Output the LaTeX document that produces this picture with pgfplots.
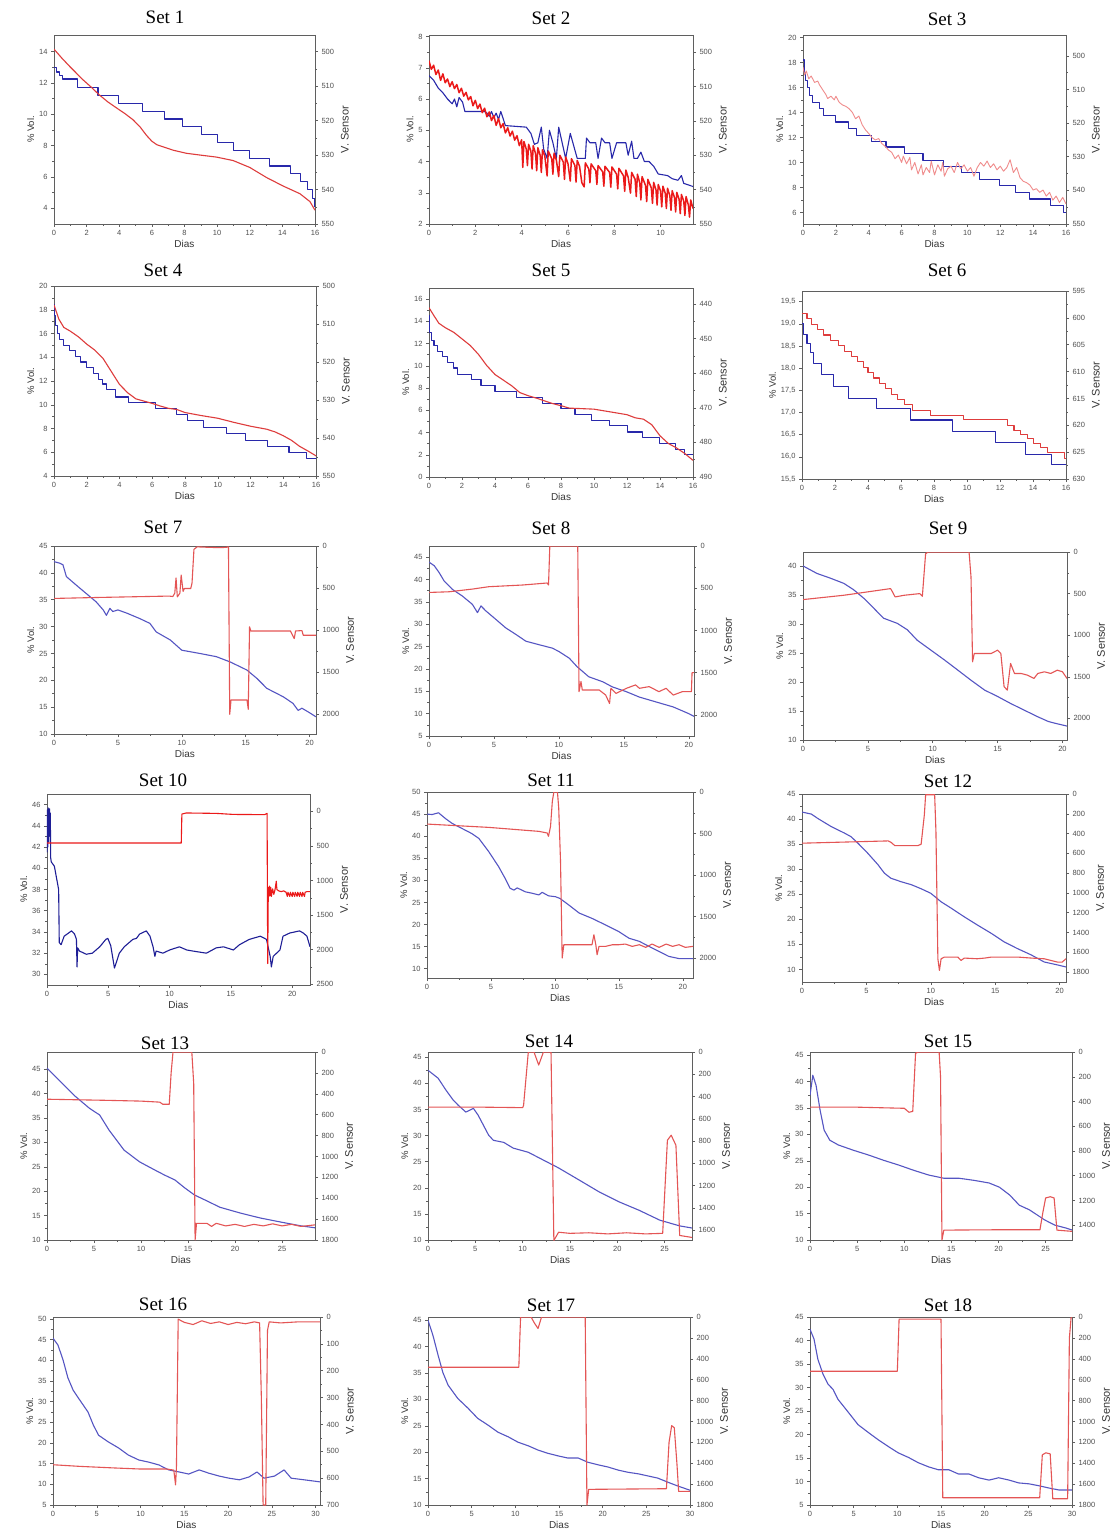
\documentclass[border=0pt]{standalone}
\usepackage{fontspec}
\setmainfont{Liberation Sans}
\newfontfamily\titlefont{Liberation Serif}
\usepackage{pgfplots}
\pgfplotsset{compat=1.18}
\definecolor{axgray}{RGB}{95,95,95}
\definecolor{tickgray}{RGB}{80,80,80}
\definecolor{labgray}{RGB}{55,55,55}
\definecolor{bA}{RGB}{40,40,170}
\definecolor{bB}{RGB}{85,85,195}
\definecolor{bC}{RGB}{30,30,150}
\definecolor{rA}{RGB}{222,60,60}
\definecolor{rB}{RGB}{235,25,25}
\definecolor{rC}{RGB}{240,140,140}
\definecolor{rD}{RGB}{228,85,85}
\pgfplotsset{
  /pgf/number format/set thousands separator={},
  base/.style={scale only axis, anchor=north west, clip=true,
    axis line style={draw=axgray, line width=0.7pt},
    every tick/.style={draw=axgray, line width=0.5pt},
    major tick length=3pt, minor tick length=1.8pt,
    tick align=outside,
    ticklabel style={font=\fontsize{7.5}{8}\selectfont, text=tickgray},
    /pgf/number format/assume math mode=true,
    scaled ticks=false,
    every axis plot/.append style={line join=round, line width=1.1pt}},
  L/.style={base, ytick pos=left, xtick pos=bottom, xlabel={Dias}, ylabel={\% Vol.},
    minor x tick num=1, minor y tick num=1,
    xlabel style={font=\fontsize{10}{11}\selectfont, text=labgray, yshift=2pt},
    ylabel style={font=\fontsize{9.5}{10}\selectfont, text=labgray, yshift=-2pt}},
  R/.style={base, axis x line=none, axis y line*=right, y dir=reverse, ylabel={V. Sensor},
    minor y tick num=1,
    ylabel style={font=\fontsize{11}{12}\selectfont, text=labgray}},
}
\newcommand{\Title}[3]{\node[font=\titlefont\fontsize{19}{20}\selectfont] at (#1pt,-#2pt) {#3};}
\begin{document}
\begin{tikzpicture}
\useasboundingbox (0,0) rectangle (1115pt,-1538pt);
\fill[white] (0,0) rectangle (1115pt,-1538pt);
% ---------------- Set 1
\Title{165}{17}{Set 1}
\begin{axis}[L, at={(54pt,-35pt)}, width=261pt, height=189pt, xmin=0, xmax=16, ymin=3, ymax=15.06, xtick={0,2,...,16}, ytick={4,6,...,14}]
\addplot[bA, const plot] coordinates {(0,13.0)(0.15,12.7)(0.35,12.45)(0.5,12.25)(1.45,11.7)(2.7,11.2)(3.95,10.7)(5.45,10.2)(6.75,9.7)(7.9,9.2)(9.05,8.7)(10.0,8.2)(11.0,7.7)(12.0,7.2)(13.2,6.7)(14.5,6.2)(15.1,5.7)(15.55,5.2)(15.85,4.6)(16,4.1)};
\end{axis}
\begin{axis}[R, at={(54pt,-35pt)}, width=261pt, height=189pt, xmin=0, xmax=16, ymin=495.2, ymax=550, ytick={500,510,...,550}]
\addplot[rA] coordinates {(0,499.3)(0.5,502.0)(1.0,504.5)(1.78,508.2)(2.3,510.4)(2.76,512.5)(3.3,514.6)(3.82,516.3)(4.35,518.0)(4.85,519.8)(5.3,522.0)(5.67,524.3)(6.0,526.0)(6.3,527.0)(6.8,527.8)(7.3,528.6)(8.12,529.5)(8.94,530.0)(9.96,530.6)(10.98,531.6)(12.0,533.6)(13.02,536.5)(14.05,539.0)(15.07,541.2)(15.69,543.5)(16.0,546.0)};
\end{axis}
% ---------------- Set 2
\Title{551}{18}{Set 2}
\begin{axis}[L, at={(429pt,-35pt)}, width=264pt, height=189pt, xmin=0, xmax=11.4, ymin=2, ymax=8.05, xtick={0,2,...,10}, ytick={2,3,...,8}]
\addplot[bA] coordinates {(0,6.75)(0.2,6.6)(0.4,6.35)(0.6,6.2)(0.8,6.0)(1.0,5.85)(1.1,6.0)(1.2,5.75)(1.3,6.05)(1.45,5.9)(1.55,5.6)(2.4,5.6)(2.5,5.55)(2.6,5.45)(2.7,5.6)(2.8,5.4)(2.9,5.55)(3.0,5.35)(3.1,5.6)(3.3,5.15)(4.2,5.1)(4.4,4.9)(4.55,4.55)(4.7,4.6)(4.85,5.1)(4.95,4.4)(5.1,4.1)(5.2,5.0)(5.35,4.6)(5.5,4.1)(5.6,5.1)(5.75,4.6)(5.9,4.1)(6.1,4.9)(6.25,4.5)(6.4,4.1)(6.75,4.1)(6.8,4.75)(6.95,4.6)(7.2,4.6)(7.3,4.1)(7.45,4.75)(7.6,4.6)(7.8,4.6)(7.9,4.1)(8.1,4.6)(8.5,4.6)(8.6,4.2)(8.75,4.65)(8.85,4.1)(9.0,4.1)(9.15,4.3)(9.3,4.0)(9.5,4.0)(9.7,3.85)(9.9,3.6)(10.3,3.55)(10.5,3.45)(10.75,3.4)(10.9,3.55)(11.0,3.3)(11.2,3.25)(11.4,3.2)};
\end{axis}
\begin{axis}[R, at={(429pt,-35pt)}, width=264pt, height=189pt, xmin=0, xmax=11.4, ymin=495, ymax=550, ytick={500,510,...,550}]
\addplot[rB, line width=1.5pt] coordinates {(0.0,502.5)(0.1,505.0)(0.2,503.8)(0.3,506.5)(0.4,505.2)(0.5,508.2)(0.6,506.3)(0.7,508.9)(0.8,507.8)(0.9,510.0)(1.0,508.6)(1.1,510.6)(1.2,509.4)(1.3,511.8)(1.4,510.5)(1.5,512.8)(1.6,511.7)(1.7,513.9)(1.8,512.9)(1.9,515.6)(2.0,514.0)(2.1,516.4)(2.2,515.1)(2.3,517.6)(2.4,516.3)(2.5,518.8)(2.6,517.4)(2.7,519.9)(2.8,518.4)(2.9,521.3)(3.0,519.3)(3.1,522.0)(3.2,520.8)(3.3,523.5)(3.4,522.0)(3.5,524.4)(3.6,523.0)(3.7,525.6)(3.8,524.3)(3.9,527.2)(4.0,525.5)(4.05,533.5)(4.1,526.0)(4.2,528.2)(4.25,533.0)(4.3,526.8)(4.4,528.8)(4.45,534.0)(4.5,527.2)(4.6,529.5)(4.65,534.5)(4.7,527.8)(4.8,530.0)(4.85,535.0)(4.9,528.4)(5.0,530.2)(5.1,536.0)(5.15,528.8)(5.3,531.0)(5.35,535.5)(5.4,529.4)(5.5,531.4)(5.6,536.2)(5.65,530.0)(5.8,532.0)(5.85,537.0)(5.9,530.5)(6.0,532.4)(6.1,537.5)(6.15,531.0)(6.3,533.0)(6.35,537.8)(6.4,531.5)(6.5,533.2)(6.6,538.0)(6.7,539.2)(6.75,532.2)(6.9,534.0)(6.95,538.0)(7.0,532.5)(7.2,534.5)(7.25,538.5)(7.3,533.0)(7.5,534.8)(7.55,539.0)(7.6,533.2)(7.8,535.0)(7.85,539.3)(7.9,533.4)(8.1,535.5)(8.15,539.8)(8.2,533.8)(8.4,536.0)(8.45,540.5)(8.5,534.3)(8.6,536.4)(8.7,541.0)(8.75,535.0)(8.9,537.0)(8.95,542.0)(9.0,535.5)(9.1,538.0)(9.15,543.0)(9.2,536.2)(9.35,538.8)(9.4,543.5)(9.45,537.0)(9.6,539.5)(9.65,544.0)(9.7,537.9)(9.8,540.0)(9.85,544.5)(9.9,538.5)(10.0,540.5)(10.05,545.0)(10.1,539.0)(10.2,541.0)(10.25,545.5)(10.3,539.6)(10.4,541.8)(10.45,546.0)(10.5,540.3)(10.6,542.3)(10.65,546.5)(10.7,540.8)(10.8,542.8)(10.85,547.0)(10.9,541.4)(11.0,543.4)(11.05,547.5)(11.1,542.0)(11.2,544.5)(11.25,548.0)(11.3,543.0)(11.4,545.5)};
\end{axis}
% ---------------- Set 3
\Title{947}{19}{Set 3}
\begin{axis}[L, at={(803pt,-35pt)}, width=263pt, height=189pt, xmin=0, xmax=16, ymin=5.1, ymax=20.2, xtick={0,2,...,16}, ytick={6,8,...,20}]
\addplot[bA, const plot] coordinates {(0,18.2)(0.07,17.2)(0.14,16.6)(0.25,16.0)(0.4,15.4)(0.55,14.8)(1.0,14.3)(1.25,13.8)(1.95,13.25)(2.75,12.7)(3.25,12.2)(4.15,11.7)(5.05,11.25)(6.15,10.7)(7.3,10.2)(8.55,9.7)(9.65,9.2)(10.75,8.65)(11.95,8.15)(12.9,7.6)(13.8,7.1)(15.05,6.6)(15.85,6.0)(16,6.0)};
\end{axis}
\begin{axis}[R, at={(803pt,-35pt)}, width=263pt, height=189pt, xmin=0, xmax=16, ymin=493.8, ymax=550, ytick={500,510,...,550}]
\addplot[rC, line width=0.9pt] coordinates {(0.0,503.4)(0.1,505.7)(0.2,504.5)(0.35,506.8)(0.5,506.0)(0.7,507.9)(0.9,507.5)(1.0,508.6)(1.2,510.1)(1.4,511.6)(1.5,512.7)(1.7,512.0)(1.9,513.1)(2.0,512.0)(2.2,513.8)(2.4,514.6)(2.6,515.0)(2.8,515.7)(3.0,516.8)(3.2,518.7)(3.4,517.9)(3.6,520.5)(3.8,522.0)(4.0,523.1)(4.2,524.3)(4.4,525.0)(4.6,524.6)(4.8,526.1)(5.0,526.9)(5.2,528.0)(5.4,528.7)(5.6,530.6)(5.8,529.5)(6.0,531.7)(6.1,529.8)(6.3,532.1)(6.5,530.2)(6.6,533.9)(6.8,531.7)(7.0,535.1)(7.2,532.4)(7.3,535.4)(7.5,533.2)(7.7,534.7)(7.8,531.3)(8.0,535.4)(8.2,532.4)(8.4,534.3)(8.5,531.7)(8.6,535.8)(8.8,533.6)(9.0,532.8)(9.2,534.7)(9.4,531.7)(9.6,533.6)(9.8,532.4)(10.0,534.3)(10.2,533.2)(10.4,535.8)(10.6,533.2)(10.8,531.7)(11.0,532.8)(11.2,531.3)(11.4,533.2)(11.6,532.1)(11.8,533.9)(12.0,532.8)(12.2,534.3)(12.4,533.2)(12.6,530.9)(12.8,534.7)(13.0,533.2)(13.2,536.2)(13.4,537.3)(13.6,537.7)(13.8,538.4)(14.0,539.9)(14.2,539.5)(14.4,540.6)(14.6,539.9)(14.8,541.7)(15.0,540.6)(15.2,542.9)(15.4,541.7)(15.6,543.6)(15.8,542.1)(16.0,544.0)};
\end{axis}
% ---------------- Set 4
\Title{163}{270}{Set 4}
\begin{axis}[L, at={(54pt,-286pt)}, width=262pt, height=190pt, xmin=0, xmax=16, ymin=4, ymax=20, xtick={0,2,...,16}, ytick={4,6,...,20}]
\addplot[bA, const plot] coordinates {(0,18.4)(0.05,17.5)(0.1,16.7)(0.2,16.0)(0.35,15.5)(0.6,15.0)(0.95,14.55)(1.3,14.1)(1.6,13.6)(2.0,13.15)(2.4,12.6)(2.7,12.15)(2.95,11.75)(3.2,11.3)(3.75,10.65)(4.55,10.2)(6.2,9.7)(7.5,9.15)(8.15,8.65)(9.15,8.1)(10.55,7.55)(11.7,7.0)(13.05,6.5)(14.35,6.0)(15.4,5.5)(16,5.5)};
\end{axis}
\begin{axis}[R, at={(54pt,-286pt)}, width=262pt, height=190pt, xmin=0, xmax=16, ymin=500, ymax=550, ytick={500,510,...,550}]
\addplot[rA] coordinates {(0,505.0)(0.3,508.75)(0.6,510.9)(1,511.9)(1.5,513.4)(2,515.3)(2.5,516.9)(3,519.1)(3.5,522.5)(4,525.9)(4.5,528.1)(5,529.7)(5.5,530.3)(6,530.9)(6.5,531.6)(7,532.2)(7.5,532.5)(8,533.3)(9,534.1)(10,534.8)(11,535.9)(12,536.9)(13,537.7)(13.5,538.4)(14,539.4)(14.5,540.6)(15,542.2)(15.5,543.4)(16,544.7)};
\end{axis}
% ---------------- Set 5
\Title{551}{270}{Set 5}
\begin{axis}[L, at={(429pt,-288pt)}, width=264pt, height=189pt, xmin=0, xmax=16, ymin=0, ymax=17, xtick={0,2,...,16}, ytick={0,2,...,16}]
\addplot[bA, const plot] coordinates {(0,14.5)(0.05,13.0)(0.15,12.3)(0.3,11.8)(0.5,11.3)(0.8,10.8)(1.1,10.3)(1.5,9.8)(1.75,9.25)(2.55,8.75)(3.15,8.2)(4.0,7.7)(5.3,7.15)(6.9,6.65)(8.0,6.15)(8.85,5.6)(9.85,5.1)(10.95,4.6)(12.05,4.05)(12.95,3.55)(13.95,3.0)(14.95,2.5)(15.5,2.0)(16,2.0)};
\end{axis}
\begin{axis}[R, at={(429pt,-288pt)}, width=264pt, height=189pt, xmin=0, xmax=16, ymin=435.4, ymax=490, ytick={440,450,...,490}]
\addplot[rA] coordinates {(0,441.1)(0.3,443.4)(0.6,445.6)(1,446.9)(1.5,448.2)(2,450.1)(2.5,452.0)(3,454.6)(3.5,457.8)(4,460.4)(4.5,462.0)(5,463.6)(5.5,465.6)(6,466.5)(6.5,467.2)(7,468.0)(7.5,468.8)(8,469.4)(8.5,470.1)(9,470.2)(10,470.4)(11,471.2)(12,472.0)(12.5,472.9)(13,473.3)(13.5,474.9)(14,478.1)(14.5,480.3)(15,481.6)(15.5,483.2)(16,485.2)};
\end{axis}
% ---------------- Set 6
\Title{947}{270}{Set 6}
\begin{axis}[L, at={(802pt,-291pt)}, width=264pt, height=188pt, xmin=0, xmax=16, ymin=15.5, ymax=19.74, xtick={0,2,...,16}, ytick={15.5,16,16.5,17,17.5,18,18.5,19,19.5}, minor y tick num=0,
  yticklabel style={/pgf/number format/.cd, use comma, fixed, fixed zerofill, precision=1}]
\addplot[bA, const plot] coordinates {(0,19.0)(0.1,18.75)(0.3,18.55)(0.5,18.35)(0.7,18.1)(1.2,17.85)(1.9,17.58)(2.8,17.32)(4.5,17.08)(6.6,16.83)(9.1,16.58)(11.7,16.32)(13.55,16.06)(15.1,15.83)(16,15.83)};
\end{axis}
\begin{axis}[R, at={(802pt,-291pt)}, width=264pt, height=188pt, xmin=0, xmax=16, ymin=595, ymax=630, ytick={595,600,...,630}]
\addplot[rA, const plot] coordinates {(0,599.2)(0.3,600.2)(0.6,601.2)(0.95,602.2)(1.3,603.2)(1.75,604.2)(2.2,605.2)(2.6,606.2)(3.0,607.2)(3.35,608.2)(3.7,609.2)(4.0,610.2)(4.35,611.2)(4.7,612.2)(5.05,613.2)(5.4,614.2)(5.8,615.2)(6.2,616.2)(6.7,617.2)(7.8,618.1)(9.8,619.0)(12.45,620.1)(12.85,620.9)(13.25,621.7)(13.65,622.5)(14.05,623.4)(14.45,624.2)(14.9,625.0)(15.9,626.1)(16,626.1)};
\end{axis}
% ---------------- Set 7
\Title{163}{527}{Set 7}
\begin{axis}[L, at={(54pt,-546pt)}, width=262pt, height=188pt, xmin=0, xmax=20.5, ymin=10, ymax=45, xtick={0,5,...,20}, ytick={10,15,...,45}]
\addplot[bB] coordinates {(0,42.1)(0.45,41.8)(0.7,41.5)(0.97,39.3)(1.75,37.7)(2.5,36.2)(3.3,34.6)(3.85,33.1)(4.1,32.1)(4.37,33.4)(4.6,32.8)(5.0,33.1)(5.7,32.5)(6.7,31.5)(7.5,30.6)(8.0,29.0)(9.1,27.5)(10.0,25.6)(11.4,25.0)(12.7,24.4)(13.8,23.4)(15.1,21.9)(15.9,20.3)(16.65,18.5)(17.96,16.9)(18.7,15.7)(19.1,14.4)(19.4,14.8)(19.9,14.1)(20.5,13.2)};
\end{axis}
\begin{axis}[R, at={(54pt,-546pt)}, width=262pt, height=188pt, xmin=0, xmax=20.5, ymin=0, ymax=2234, ytick={0,500,...,2000}]
\addplot[rD] coordinates {(0,623)(3.6,611)(9.0,595)(9.3,600)(9.45,560)(9.55,380)(9.65,605)(9.85,560)(9.95,345)(10.1,540)(10.2,505)(10.7,505)(10.8,440)(10.95,40)(11.2,10)(12,15)(13.0,20)(13.5,15)(13.65,10)(13.75,2000)(13.85,1830)(15.1,1830)(15.2,1940)(15.3,960)(15.4,1010)(18.5,1010)(18.8,1100)(18.9,1010)(19.4,1005)(19.5,1060)(20.5,1060)};
\end{axis}
% ---------------- Set 8
\Title{551}{528}{Set 8}
\begin{axis}[L, at={(429pt,-546pt)}, width=265pt, height=190pt, xmin=0, xmax=20.4, ymin=5, ymax=47.5, xtick={0,5,...,20}, ytick={5,10,...,45}]
\addplot[bB] coordinates {(0,43.9)(0.4,43.1)(0.77,41.6)(1.16,39.7)(1.8,37.8)(2.57,36.3)(3.34,34.45)(3.73,32.6)(4.0,34.1)(4.37,33.0)(5.14,31.1)(5.9,29.2)(6.7,27.7)(7.46,26.2)(8.5,25.4)(9.5,24.65)(10.0,23.9)(10.8,22.4)(11.4,20.5)(12.3,18.25)(13.4,17.1)(14.1,16.0)(15.2,14.9)(16.2,13.7)(17.5,12.6)(18.8,11.5)(20,10.0)(20.4,9.4)};
\end{axis}
\begin{axis}[R, at={(429pt,-546pt)}, width=265pt, height=190pt, xmin=0, xmax=20.4, ymin=0, ymax=2250, ytick={0,500,...,2000}]
\addplot[rD] coordinates {(0,550)(1.54,542)(3.34,510)(4.6,482)(7.2,462)(9.1,438)(9.2,462)(9.3,0)(11.45,0)(11.55,1725)(11.7,1605)(11.8,1705)(13.1,1705)(13.6,1765)(13.9,1865)(14.0,1685)(14.4,1745)(15.2,1685)(15.9,1645)(16.2,1685)(16.95,1665)(17.7,1725)(18.25,1685)(18.8,1765)(19.5,1725)(20.2,1725)(20.25,1500)(20.4,1500)};
\end{axis}
% ---------------- Set 9
\Title{948}{528}{Set 9}
\begin{axis}[L, at={(803pt,-552pt)}, width=264pt, height=188pt, xmin=0, xmax=20.35, ymin=10, ymax=42.4, xtick={0,5,...,20}, ytick={10,15,...,40}]
\addplot[bB] coordinates {(0,40.0)(1.08,38.7)(2.1,37.9)(3.14,37.0)(3.9,35.9)(4.7,34.4)(5.46,32.7)(6.2,31.0)(7.27,30.1)(8.04,29.0)(8.8,27.2)(9.85,25.5)(10.9,23.8)(11.9,22.1)(12.95,20.3)(14.0,18.6)(15.0,17.5)(16.0,16.3)(17.0,15.2)(18.1,14.0)(18.9,13.2)(19.4,12.9)(20.35,12.4)};
\end{axis}
\begin{axis}[R, at={(803pt,-552pt)}, width=264pt, height=188pt, xmin=0, xmax=20.35, ymin=0, ymax=2260, ytick={0,500,...,2000}]
\addplot[rD] coordinates {(0,572)(3.14,520)(6.75,440)(6.9,480)(7.1,540)(7.8,520)(9.0,500)(9.2,532)(9.45,20)(9.65,0)(12.8,0)(12.95,300)(13.07,1320)(13.2,1220)(14.5,1220)(15.0,1180)(15.25,1220)(15.5,1620)(15.75,1660)(16.0,1340)(16.3,1460)(16.8,1460)(17.3,1480)(17.8,1520)(18.1,1460)(18.6,1440)(19.1,1460)(19.6,1420)(20.0,1440)(20.35,1520)};
\end{axis}
% ---------------- Set 10
\Title{163}{780}{Set 10}
\begin{axis}[L, at={(47pt,-794pt)}, width=263pt, height=191pt, xmin=0, xmax=21.45, ymin=29, ymax=47, xtick={0,5,...,20}, ytick={30,32,...,46}]
\addplot[bC] coordinates {(0,41.5)(0.03,45.5)(0.06,42)(0.09,45.7)(0.12,42.5)(0.15,45.6)(0.18,43)(0.21,45.6)(0.24,44)(0.27,45.2)(0.3,41)(0.35,40.6)(0.6,40.2)(0.95,38.0)(1.0,33.0)(1.15,32.8)(1.4,33.6)(2.0,34.1)(2.25,33.8)(2.4,33.3)(2.45,30.7)(2.5,32.5)(2.65,32.2)(3.2,31.9)(3.7,32.0)(4.3,32.6)(4.8,33.3)(4.96,33.4)(5.2,32.7)(5.5,30.6)(5.9,32.0)(6.3,32.6)(7.0,33.3)(7.3,33.4)(7.55,33.8)(8.1,34.1)(8.4,33.6)(8.65,32.6)(8.8,31.7)(8.9,32.2)(9.45,32.0)(10.0,32.3)(10.8,32.6)(11.4,32.3)(11.9,32.2)(13.0,32.0)(13.8,32.5)(14.4,32.6)(15.2,32.3)(15.7,32.8)(16.5,33.3)(17.4,33.6)(17.9,33.3)(18.2,31.7)(18.3,30.7)(18.45,31.7)(19.0,32.3)(19.25,33.6)(19.8,33.9)(20.6,34.1)(20.9,33.9)(21.2,33.6)(21.45,32.6)};
\end{axis}
\begin{axis}[R, at={(47pt,-794pt)}, width=263pt, height=191pt, xmin=0, xmax=21.45, ymin=-250, ymax=2510, ytick={0,500,...,2500}]
\addplot[rB] coordinates {(0,458)(10.95,458)(11.0,40)(11.35,24)(13.8,30)(15.2,45)(17.75,48)(17.95,30)(18.0,2200)(18.05,1100)(18.1,1230)(18.15,1080)(18.2,1220)(18.25,1100)(18.3,1230)(18.4,1120)(18.5,1200)(18.6,1130)(18.7,1010)(18.75,1130)(18.9,1150)(19.1,1160)(19.3,1150)(19.5,1170)(19.6,1230)(19.65,1170)(19.8,1230)(19.85,1170)(20.0,1230)(20.05,1170)(20.2,1230)(20.25,1170)(20.4,1230)(20.45,1170)(20.6,1230)(20.65,1170)(20.8,1230)(20.85,1170)(21.0,1230)(21.05,1170)(21.2,1160)(21.45,1160)};
\end{axis}
% ---------------- Set 11
\Title{551}{780}{Set 11}
\begin{axis}[L, at={(427pt,-792pt)}, width=266pt, height=186pt, xmin=0, xmax=20.8, ymin=7.9, ymax=50, xtick={0,5,...,20}, ytick={10,15,...,50}]
\addplot[bB] coordinates {(0,45.0)(0.4,44.9)(0.9,45.3)(1.44,44.0)(1.96,42.9)(2.5,42.1)(3.5,40.6)(4.05,39.5)(4.83,36.5)(5.6,33.1)(6.1,30.5)(6.5,28.2)(6.8,27.8)(7.05,28.3)(7.7,27.4)(8.2,27.1)(8.75,26.7)(9.0,27.3)(9.5,26.5)(10.05,26.3)(10.4,25.9)(11.1,24.4)(11.9,22.6)(12.9,21.4)(13.97,19.9)(15.0,18.4)(15.8,16.9)(16.6,16.2)(17.4,15.0)(18.15,13.9)(18.9,12.8)(19.7,12.3)(20.8,12.3)};
\end{axis}
\begin{axis}[R, at={(427pt,-792pt)}, width=266pt, height=186pt, xmin=0, xmax=20.8, ymin=0, ymax=2240, ytick={0,500,...,2000}]
\addplot[rD] coordinates {(0,386)(4.83,426)(8.75,474)(9.4,494)(9.5,534)(9.66,414)(9.8,112)(9.92,0)(10.2,0)(10.3,193)(10.44,835)(10.57,2000)(10.7,1839)(10.83,1839)(12.9,1839)(13.05,1719)(13.2,1839)(13.3,1960)(13.45,1859)(13.97,1859)(14.5,1839)(15.0,1839)(15.5,1831)(16.05,1859)(16.6,1839)(17.1,1871)(17.6,1831)(18.15,1871)(18.7,1831)(19.2,1859)(19.7,1839)(20.2,1871)(20.8,1859)};
\end{axis}
% ---------------- Set 12
\Title{948}{781}{Set 12}
\begin{axis}[L, at={(802pt,-794pt)}, width=264pt, height=188pt, xmin=0, xmax=20.5, ymin=7.5, ymax=45, xtick={0,5,...,20}, ytick={10,15,...,45}]
\addplot[bB] coordinates {(0,41.4)(0.72,41.0)(1.24,40.1)(2.27,38.5)(3.3,37.2)(3.8,36.5)(4.34,35.2)(5.1,33.2)(5.9,30.9)(6.4,29.2)(6.9,28.2)(7.7,27.5)(8.5,26.9)(9.25,26.1)(10.0,25.2)(10.8,23.5)(11.6,22.2)(12.6,20.5)(13.6,18.9)(14.7,17.2)(15.7,15.5)(16.7,14.2)(17.8,12.9)(18.8,11.5)(19.85,10.9)(20.5,10.5)};
\end{axis}
\begin{axis}[R, at={(802pt,-794pt)}, width=264pt, height=188pt, xmin=0, xmax=20.5, ymin=0, ymax=1900, ytick={0,200,...,1800}, minor y tick num=0]
\addplot[rD] coordinates {(0,497)(6.7,474)(6.9,487)(7.2,521)(9.0,521)(9.25,508)(9.5,210)(9.6,7)(10.3,7)(10.4,379)(10.55,1665)(10.67,1783)(10.8,1665)(11.05,1648)(12.1,1648)(12.35,1682)(12.6,1658)(13.6,1665)(14.2,1658)(14.7,1648)(15.7,1648)(16.75,1648)(17.8,1658)(18.8,1665)(19.85,1699)(20.2,1699)(20.5,1665)};
\end{axis}
% ---------------- Set 13
\Title{165}{1043}{Set 13}
\begin{axis}[L, at={(47pt,-1052pt)}, width=268pt, height=188pt, xmin=0, xmax=28.5, ymin=10, ymax=48.5, xtick={0,5,...,25}, ytick={10,15,...,45}]
\addplot[bB] coordinates {(0,45.2)(1.3,42.7)(2.9,39.6)(4.5,37.0)(5.6,35.6)(6.6,32.5)(8.2,28.4)(9.85,26.0)(11.5,24.3)(12.5,23.3)(13.6,22.3)(14.7,20.6)(15.7,19.2)(16.8,18.2)(18.4,16.7)(20.6,15.5)(22.7,14.5)(24.8,13.7)(27.0,12.9)(28.5,12.5)};
\end{axis}
\begin{axis}[R, at={(47pt,-1052pt)}, width=268pt, height=188pt, xmin=0, xmax=28.5, ymin=0, ymax=1800, ytick={0,200,...,1800}, minor y tick num=0]
\addplot[rD] coordinates {(0,452)(6,462)(10,470)(12,480)(12.3,500)(13.0,500)(13.2,200)(13.4,0)(15.4,0)(15.6,300)(15.75,1800)(15.9,1640)(17,1640)(17.5,1670)(18,1640)(19,1665)(20,1650)(21,1670)(22,1650)(23,1665)(24,1645)(25,1665)(26,1650)(27,1670)(28.5,1655)};
\end{axis}
% ---------------- Set 14
\Title{549}{1041}{Set 14}
\begin{axis}[L, at={(428pt,-1052pt)}, width=264pt, height=188pt, xmin=0, xmax=27.9, ymin=10, ymax=46, xtick={0,5,...,25}, ytick={10,15,...,45}]
\addplot[bB] coordinates {(0,42.5)(1.06,41.0)(1.9,38.7)(2.66,36.8)(3.2,35.8)(4.0,34.5)(4.8,35.2)(5.3,33.9)(5.85,32.0)(6.4,30.1)(6.9,29.1)(8.0,28.7)(9.0,27.6)(10.6,26.8)(12.2,25.3)(13.8,23.8)(15.96,21.5)(18.1,19.2)(20.2,17.3)(22.3,15.7)(24.5,13.8)(26.6,12.7)(27.9,12.3)};
\end{axis}
\begin{axis}[R, at={(428pt,-1052pt)}, width=264pt, height=188pt, xmin=0, xmax=27.9, ymin=0, ymax=1690, ytick={0,200,...,1600}, minor y tick num=0]
\addplot[rD] coordinates {(0,495)(5,495)(10.0,500)(10.1,480)(10.6,0)(11.2,0)(11.7,117)(12.2,0)(13.0,0)(13.3,1694)(13.8,1620)(15,1630)(17,1625)(19,1635)(21,1625)(23,1635)(24.8,1630)(25.3,793)(25.7,748)(26.2,838)(26.6,1649)(27.9,1667)};
\end{axis}
% ---------------- Set 15
\Title{948}{1041}{Set 15}
\begin{axis}[L, at={(810pt,-1052pt)}, width=262pt, height=188pt, xmin=0, xmax=27.8, ymin=10, ymax=45.6, xtick={0,5,...,25}, ytick={10,15,...,45}]
\addplot[bB] coordinates {(0,37.4)(0.3,41.2)(0.64,39.3)(1.07,34.6)(1.5,30.8)(2.1,28.9)(3.0,28.0)(4.6,27.0)(6.2,26.1)(7.8,25.1)(9.4,24.2)(11.0,23.2)(12.6,22.3)(14.2,21.7)(15.8,21.7)(17.4,21.3)(19.0,20.8)(20.1,20.0)(21.2,18.5)(22.2,16.6)(23.3,15.7)(24.9,13.8)(26.0,12.8)(27.1,12.3)(27.8,11.9)};
\end{axis}
\begin{axis}[R, at={(810pt,-1052pt)}, width=262pt, height=188pt, xmin=0, xmax=27.8, ymin=0, ymax=1520, ytick={0,200,...,1400}, minor y tick num=0]
\addplot[rD] coordinates {(0,446)(5,446)(10,455)(10.5,487)(10.9,480)(11.2,10)(11.5,0)(13.7,0)(13.85,200)(14.0,1520)(14.2,1440)(20,1437)(24.4,1437)(24.7,1300)(25.0,1180)(25.5,1170)(25.9,1180)(26.2,1440)(27.8,1450)};
\end{axis}
% ---------------- Set 16
\Title{163}{1304}{Set 16}
\begin{axis}[L, at={(53pt,-1317pt)}, width=267pt, height=188pt, xmin=0, xmax=30.5, ymin=5, ymax=50.5, xtick={0,5,...,30}, ytick={5,10,...,50}]
\addplot[bB] coordinates {(0,45.4)(0.57,43.7)(1.15,40.1)(1.7,35.8)(2.3,32.8)(2.9,30.9)(3.45,29.2)(4.0,27.5)(4.6,24.4)(5.2,21.9)(6.3,20.3)(7.5,18.8)(8.6,17.1)(9.8,15.9)(10.9,15.4)(12.1,14.7)(13.2,13.5)(14.4,13.0)(15.5,12.5)(16.7,13.5)(17.8,12.7)(19.0,12.0)(20.1,11.5)(21.3,11.1)(22.4,11.8)(23.3,13.0)(24.1,11.5)(25.3,12.0)(26.4,13.5)(27.2,11.5)(28.7,11.1)(30.5,10.6)};
\end{axis}
\begin{axis}[R, at={(53pt,-1317pt)}, width=267pt, height=188pt, xmin=0, xmax=30.5, ymin=0, ymax=700, ytick={0,100,...,700}]
\addplot[rD] coordinates {(0,550)(3,556)(7,562)(10,566)(13,566)(13.8,570)(14.0,625)(14.1,560)(14.3,8)(15,20)(16,28)(17,14)(18,24)(19,18)(20,28)(21,20)(22,25)(23,18)(23.6,22)(23.8,300)(24.0,700)(24.3,700)(24.5,50)(24.7,18)(26,22)(28,18)(30.5,18)};
\end{axis}
% ---------------- Set 17
\Title{551}{1305}{Set 17}
\begin{axis}[L, at={(428pt,-1317pt)}, width=262pt, height=188pt, xmin=0, xmax=30, ymin=10, ymax=45.6, xtick={0,5,...,30}, ytick={10,15,...,45}]
\addplot[bB] coordinates {(0,45.0)(0.57,42.1)(1.15,38.4)(1.7,35.1)(2.3,32.7)(3.4,30.2)(4.6,28.3)(5.7,26.4)(6.9,25.1)(8.0,23.8)(9.2,22.9)(10.3,21.9)(11.5,21.2)(12.6,20.4)(13.7,19.8)(14.9,19.3)(16.0,18.9)(17.2,18.9)(18.3,18.1)(19.5,17.6)(20.6,17.2)(21.8,16.6)(22.9,16.2)(24.1,15.9)(25.2,15.5)(26.3,15.1)(27.5,14.3)(28.6,13.6)(30,12.8)};
\end{axis}
\begin{axis}[R, at={(428pt,-1317pt)}, width=262pt, height=188pt, xmin=0, xmax=30, ymin=0, ymax=1800, ytick={0,200,...,1800}, minor y tick num=0]
\addplot[rD] coordinates {(0,481)(10.4,481)(10.6,0)(11.8,0)(12.2,60)(12.6,110)(13.0,0)(18.0,0)(18.2,1800)(18.4,1650)(27.3,1644)(27.6,1200)(27.9,1040)(28.2,1060)(28.5,1400)(28.7,1670)(30,1670)};
\end{axis}
% ---------------- Set 18
\Title{948}{1305}{Set 18}
\begin{axis}[L, at={(810pt,-1317pt)}, width=262pt, height=188pt, xmin=0, xmax=30, ymin=5, ymax=45, xtick={0,5,...,30}, ytick={5,10,...,45}]
\addplot[bB] coordinates {(0,42.4)(0.46,40.3)(0.9,36.0)(1.5,32.8)(2.07,30.7)(2.64,29.6)(3.2,27.5)(4.4,24.7)(5.5,22.1)(6.7,20.4)(7.8,18.9)(9.0,17.4)(10.1,16.1)(11.3,15.1)(12.4,14.0)(13.6,13.1)(14.7,12.5)(15.9,12.5)(17.0,11.6)(18.2,11.6)(19.3,10.8)(20.5,10.3)(21.6,10.8)(22.8,10.3)(23.9,9.7)(25.1,9.5)(26.2,9.1)(27.4,8.6)(28.5,8.2)(30,8.2)};
\end{axis}
\begin{axis}[R, at={(810pt,-1317pt)}, width=262pt, height=188pt, xmin=0, xmax=30, ymin=0, ymax=1800, ytick={0,200,...,1800}, minor y tick num=0]
\addplot[rD] coordinates {(0,519)(10.0,519)(10.2,20)(15.0,20)(15.2,1730)(26.3,1730)(26.6,1320)(27.0,1300)(27.5,1310)(27.8,1740)(29.5,1740)(29.7,200)(29.9,0)(30,0)};
\end{axis}
\end{tikzpicture}
\end{document}
